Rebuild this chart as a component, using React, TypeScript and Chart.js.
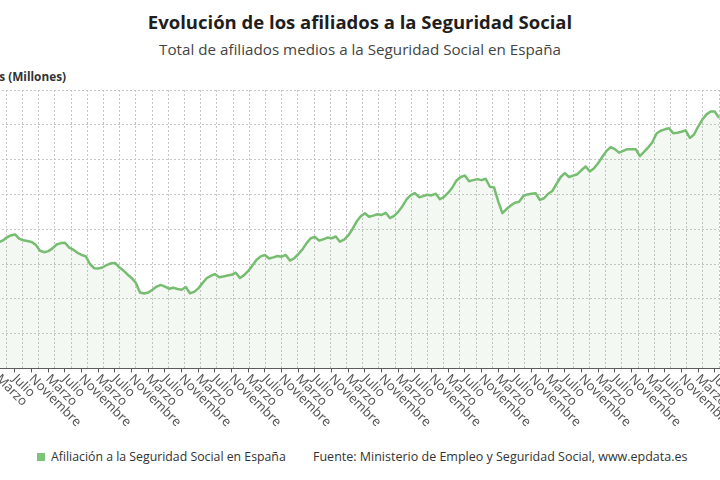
import React, { useEffect, useRef } from 'react';
import { Chart, registerables } from 'chart.js';

Chart.register(...registerables);

// ---------- DATA ----------
const MONTHS = ['Enero', 'Febrero', 'Marzo', 'Abril', 'Mayo', 'Junio', 'Julio', 'Agosto', 'Septiembre', 'Octubre', 'Noviembre', 'Diciembre'];
const SHOWN_MONTHS = ['Marzo', 'Julio', 'Noviembre'];
const YEARS = [2010, 2011, 2012, 2013, 2014, 2015, 2016, 2017, 2018, 2019, 2020, 2021, 2022, 2023, 2024];

// Afiliados medios (millones), one array per year
const af2010 = [17.58, 17.60, 17.62, 17.67, 17.76, 17.82, 17.85, 17.73, 17.68, 17.66, 17.63, 17.55];
const af2011 = [17.38, 17.34, 17.37, 17.45, 17.56, 17.60, 17.61, 17.47, 17.41, 17.32, 17.26, 17.22];
const af2012 = [17.00, 16.88, 16.87, 16.90, 16.97, 17.02, 17.03, 16.91, 16.82, 16.70, 16.60, 16.46];
const af2013 = [16.18, 16.15, 16.18, 16.26, 16.35, 16.40, 16.35, 16.29, 16.32, 16.28, 16.26, 16.34];
const af2014 = [16.16, 16.20, 16.30, 16.45, 16.59, 16.66, 16.71, 16.62, 16.64, 16.67, 16.69, 16.75];
const af2015 = [16.60, 16.68, 16.80, 16.96, 17.12, 17.22, 17.26, 17.16, 17.19, 17.23, 17.21, 17.26];
const af2016 = [17.10, 17.16, 17.28, 17.42, 17.60, 17.74, 17.78, 17.67, 17.71, 17.76, 17.74, 17.79];
const af2017 = [17.64, 17.70, 17.82, 18.00, 18.22, 18.37, 18.46, 18.36, 18.39, 18.43, 18.41, 18.47];
const af2018 = [18.32, 18.38, 18.50, 18.66, 18.86, 18.98, 19.04, 18.92, 18.95, 18.99, 18.97, 19.02];
const af2019 = [18.86, 18.93, 19.05, 19.20, 19.40, 19.50, 19.54, 19.38, 19.41, 19.44, 19.41, 19.45];
const af2020 = [19.22, 19.20, 18.80, 18.46, 18.58, 18.68, 18.76, 18.79, 18.95, 19.00, 19.02, 19.03];
const af2021 = [18.84, 18.89, 19.02, 19.10, 19.30, 19.50, 19.61, 19.50, 19.54, 19.58, 19.70, 19.80];
const af2022 = [19.66, 19.75, 19.90, 20.08, 20.25, 20.36, 20.30, 20.20, 20.25, 20.30, 20.30, 20.30];
const af2023 = [20.10, 20.22, 20.35, 20.50, 20.75, 20.83, 20.87, 20.90, 20.76, 20.77, 20.80, 20.84];
const af2024 = [20.62, 20.72, 20.95, 21.15, 21.30, 21.38, 21.38, 21.20];

const Y_MIN = 14;
const Y_MAX = 22;
const GRID_COLUMNS = 45;

const SERIES_BY_YEAR = [af2010, af2011, af2012, af2013, af2014, af2015, af2016, af2017, af2018, af2019, af2020, af2021, af2022, af2023, af2024];

const categories: string[] = [];
const values: number[] = [];
SERIES_BY_YEAR.forEach((arr, yi) => {
  arr.forEach((v, mi) => {
    categories.push(`${MONTHS[mi]} ${YEARS[yi]}`);
    values.push(v);
  });
});

const monthOf = (i: number) => MONTHS[i % 12];
const isShown = (i: number) => SHOWN_MONTHS.includes(monthOf(i));

const FONT = "'Open Sans', 'Noto Sans', sans-serif";
const LINE_COLOR = '#77bd71';
const GRID_COLOR = '#c6c6c6';

// rotate x tick labels clockwise, starting at the tick
const clockwiseLabels = {
  id: 'clockwiseLabels',
  beforeDraw(chart: any) {
    const s = chart.scales.x;
    const items = s.getLabelItems(chart.chartArea);
    items.forEach((it: any, i: number) => {
      const px = s.getPixelForTick(i);
      it.options.translation = [px - 0.5, s.top + 8.5];
      it.options.rotation = Math.PI / 4;
      it.options.textAlign = 'left';
      it.options.textBaseline = 'middle';
      it.textOffset = 0;
    });
  },
};

const CANVAS_W = 730;
const CANVAS_H = 446;
const PLOT_TOP = 90;
const PLOT_BOTTOM = 368.4;

function AfiliadosChart() {
  const ref = useRef<HTMLCanvasElement>(null);
  useEffect(() => {
    if (!ref.current) return;
    const chart = new Chart(ref.current, {
      type: 'line',
      data: {
        labels: categories,
        datasets: [
          {
            label: 'Afiliación a la Seguridad Social en España',
            data: values,
            borderColor: LINE_COLOR,
            backgroundColor: 'rgba(120,190,110,0.09)',
            borderWidth: 2.5,
            pointRadius: 0,
            tension: 0,
            fill: 'start',
            borderJoinStyle: 'round',
          },
        ],
      },
      options: {
        animation: false,
        responsive: false,
        events: [],
        layout: { padding: { top: PLOT_TOP, left: 0, right: 1, bottom: 0 } },
        plugins: {
          legend: { display: false },
          title: { display: false },
          tooltip: { enabled: false },
        },
        scales: {
          x: {
            type: 'category',
            position: 'bottom',
            offset: false,
            grid: {
              display: true,
              drawOnChartArea: false,
              drawTicks: true,
              tickLength: 4,
              color: 'transparent',
              tickColor: (ctx: any) => (isShown(ctx.index) ? '#555555' : 'transparent'),
            },
            border: { display: true, color: '#5a5a5a', width: 1 },
            ticks: {
              autoSkip: false,
              minRotation: 45,
              maxRotation: 45,
              padding: 4,
              color: '#505050',
              font: { family: FONT, size: 13 },
              callback: (_v: any, i: number) => (isShown(i) ? monthOf(i) : ''),
            },
            afterFit: (s: any) => {
              s.height = CANVAS_H - PLOT_BOTTOM;
              s.paddingLeft = 0;
              s.paddingRight = 0;
            },
          },
          xg: {
            type: 'linear',
            position: 'bottom',
            min: 0,
            max: GRID_COLUMNS,
            ticks: { display: false, stepSize: 1 },
            grid: { display: true, drawTicks: false, color: GRID_COLOR, lineWidth: 1 },
            border: { display: false, dash: [2, 2] },
            afterFit: (s: any) => {
              s.height = 0;
            },
          },
          y: {
            type: 'linear',
            min: Y_MIN,
            max: Y_MAX,
            ticks: { display: false, stepSize: 1 },
            grid: { display: true, drawTicks: false, color: GRID_COLOR, lineWidth: 1 },
            border: { display: false, dash: [2, 2] },
            afterFit: (s: any) => {
              s.width = 0;
            },
          },
        },
      },
      plugins: [clockwiseLabels],
    });
    return () => chart.destroy();
  }, []);
  return (
    <canvas
      ref={ref}
      width={CANVAS_W}
      height={CANVAS_H}
      style={{ position: 'absolute', left: -10, top: 0, width: CANVAS_W, height: CANVAS_H }}
    />
  );
}

export default function App() {
  return (
    <div
      style={{
        position: 'fixed',
        left: 0,
        top: 0,
        width: 720,
        height: 480,
        overflow: 'hidden',
        background: '#ffffff',
        fontFamily: FONT,
      }}
    >
      <div
        style={{
          position: 'absolute',
          top: 11,
          left: 0,
          width: 720,
          textAlign: 'center',
          fontWeight: 700,
          fontSize: 18.5,
          lineHeight: '22px',
          color: '#1e1e1e',
        }}
      >
        Evolución de los afiliados a la Seguridad Social
      </div>
      <div
        style={{
          position: 'absolute',
          top: 39,
          left: 0,
          width: 720,
          textAlign: 'center',
          fontSize: 15.2,
          lineHeight: '20px',
          color: '#444444',
        }}
      >
        Total de afiliados medios a la Seguridad Social en España
      </div>
      <div
        style={{
          position: 'absolute',
          top: 68,
          right: 720 - 66,
          whiteSpace: 'nowrap',
          fontWeight: 700,
          fontSize: 11.8,
          lineHeight: '16px',
          color: '#333333',
        }}
      >
        Afiliados (Millones)
      </div>
      <AfiliadosChart />
      <div style={{ position: 'absolute', left: 37, top: 453, width: 8, height: 8, background: '#7cc47a' }} />
      <div
        style={{
          position: 'absolute',
          left: 51,
          top: 449,
          whiteSpace: 'nowrap',
          fontSize: 12.3,
          lineHeight: '16px',
          color: '#333333',
        }}
      >
        Afiliación a la Seguridad Social en España
      </div>
      <div
        style={{
          position: 'absolute',
          left: 313,
          top: 449,
          whiteSpace: 'nowrap',
          fontSize: 12.5,
          lineHeight: '16px',
          color: '#333333',
        }}
      >
        Fuente: Ministerio de Empleo y Seguridad Social, www.epdata.es
      </div>
    </div>
  );
}
